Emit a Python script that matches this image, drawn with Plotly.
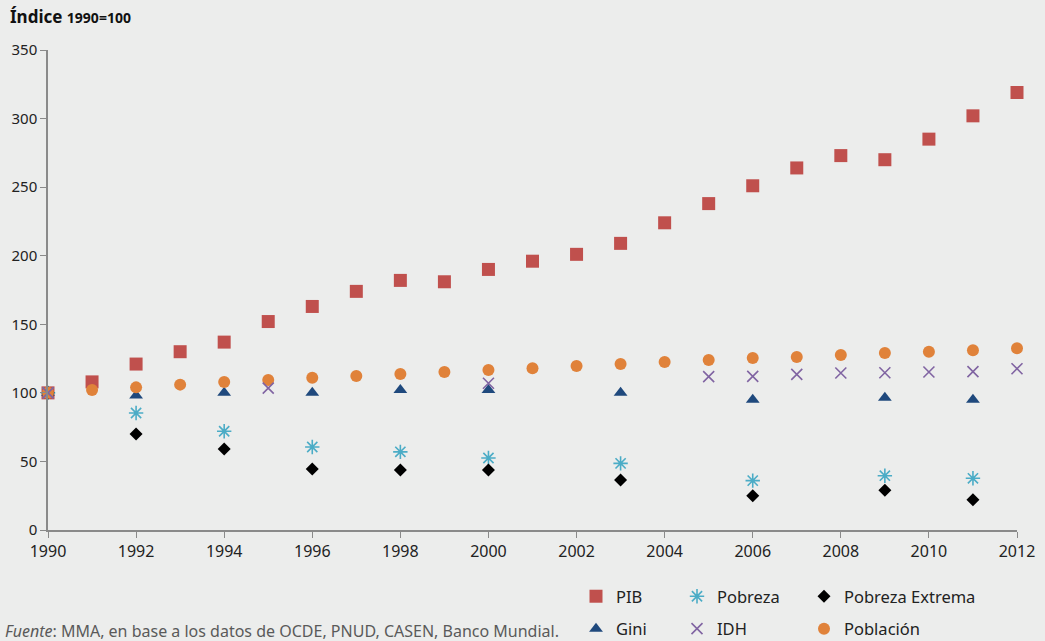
import plotly.graph_objects as go

years = list(range(1990, 2013))

pib = [100, 108, 121, 130, 137, 152, 163, 174, 182, 181, 190, 196,
       201, 209, 224, 238, 251, 264, 273, 270, 285, 302, 319]
poblacion = [100, 102, 104, 106, 108, 109.4, 111, 112.3, 113.7, 115.2, 116.7, 118,
             119.6, 121, 122.5, 124, 125.4, 126.2, 127.6, 129, 130, 131, 132.5]

gini_years = [1990, 1992, 1994, 1996, 1998, 2000, 2003, 2006, 2009, 2011]
gini = [100, 98, 100, 100, 102, 102, 100, 95, 96.5, 95]

pobreza_years = [1990, 1992, 1994, 1996, 1998, 2000, 2003, 2006, 2009, 2011]
pobreza = [100, 85.3, 72, 60.5, 57, 52.5, 48.6, 36, 39.6, 37.7]
pobreza_ext = [100, 70, 59, 44.5, 43.8, 43.8, 36.5, 25, 29, 22]

idh_years = [1990, 1995, 2000, 2005, 2006, 2007, 2008, 2009, 2010, 2011, 2012]
idh = [100, 103.5, 107, 111.8, 112, 113.5, 114.5, 114.7, 115.2, 115.5, 117.6]

x_ticks = list(range(1990, 2013, 2))
y_ticks = [0, 50, 100, 150, 200, 250, 300, 350]

BG = "#ecedec"
FONT = "Noto Sans"

fig = go.Figure()

# column 1 legend: PIB, Gini; column 2: Pobreza, IDH; column 3: Pobreza Extrema, Población
fig.add_trace(go.Scatter(x=years, y=pib, mode="markers", name="PIB", legend="legend",
                         legendgroup="a", cliponaxis=False,
                         marker=dict(symbol="square", size=13, color="#c0504d")))
fig.add_trace(go.Scatter(x=gini_years, y=gini, mode="markers", name="Gini", legend="legend",
                         legendgroup="b", cliponaxis=False,
                         marker=dict(symbol="triangle-up", size=12, color="#1f497d")))
fig.add_trace(go.Scatter(x=pobreza_years, y=pobreza, mode="markers", name="Pobreza",
                         legend="legend2", legendgroup="c", cliponaxis=False,
                         marker=dict(symbol="asterisk-open", size=12, color="#4bacc6",
                                     line=dict(color="#4bacc6", width=1.6))))
fig.add_trace(go.Scatter(x=pobreza_years, y=pobreza_ext, mode="markers", name="Pobreza Extrema",
                         legend="legend3", legendgroup="e", cliponaxis=False,
                         marker=dict(symbol="diamond", size=10, color="#000000")))
fig.add_trace(go.Scatter(x=years, y=poblacion, mode="markers", name="Población",
                         legend="legend3", legendgroup="f", cliponaxis=False,
                         marker=dict(symbol="circle", size=12, color="#e0823a")))
fig.add_trace(go.Scatter(x=idh_years, y=idh, mode="markers", name="IDH",
                         legend="legend2", legendgroup="d", cliponaxis=False,
                         marker=dict(symbol="x-thin-open", size=11, color="#8064a2",
                                     line=dict(color="#8064a2", width=1.6))))

leg_common = dict(orientation="v", xref="container", yref="container",
                  xanchor="left", yanchor="top", traceorder="grouped",
                  tracegroupgap=8, bgcolor="rgba(0,0,0,0)",
                  font=dict(family=FONT, size=16.5, color="#222222"))

fig.update_layout(
    width=1045, height=641,
    paper_bgcolor=BG, plot_bgcolor=BG,
    margin=dict(l=48, r=28, t=50, b=111, autoexpand=False),
    font=dict(family=FONT, size=15, color="#222222"),
    xaxis=dict(range=[1990, 2012], tickvals=x_ticks, showgrid=False, zeroline=False,
               showline=True, linecolor="#8a8a8a", linewidth=1.5,
               ticks="outside", ticklen=6, tickcolor="#8a8a8a",
               tickfont=dict(family="Liberation Sans Narrow, " + FONT, size=16)),
    yaxis=dict(range=[0, 350], tickvals=y_ticks, showgrid=False, zeroline=False,
               showline=True, linecolor="#8a8a8a", linewidth=1.5,
               ticks="outside", ticklen=6, tickcolor="#8a8a8a",
               tickfont=dict(family=FONT, size=15)),
    legend=dict(x=576 / 1045, y=1 - 579 / 641, **leg_common),
    legend2=dict(x=677 / 1045, y=1 - 579 / 641, **leg_common),
    legend3=dict(x=804 / 1045, y=1 - 579 / 641, **leg_common),
    annotations=[
        dict(text="<b>Índice</b> <b><span style='font-size:14px'>1990=100</span></b>",
             xref="paper", yref="paper", x=0, y=1, xshift=-40, yshift=20,
             xanchor="left", yanchor="bottom", showarrow=False,
             font=dict(family=FONT, size=17, color="#111111")),
        dict(text="<i>Fuente</i>: MMA, en base a los datos de OCDE, PNUD, CASEN, Banco Mundial.",
             xref="paper", yref="paper", x=0, y=0, xshift=-45, yshift=-101,
             xanchor="left", yanchor="middle", showarrow=False,
             font=dict(family=FONT, size=16, color="#5a5a5a")),
    ],
)

fig.write_html("out.html", config={"displayModeBar": False},
               post_script="document.body.style.margin='0';")
